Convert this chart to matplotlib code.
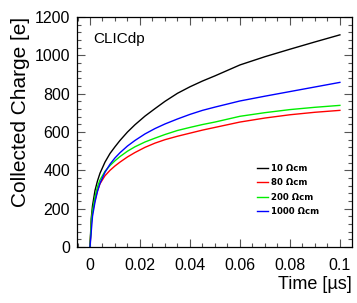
import matplotlib
matplotlib.use("Agg")
import matplotlib.pyplot as plt
from matplotlib.ticker import MultipleLocator, FixedLocator

plt.rcParams['font.family'] = ['Liberation Sans', 'DejaVu Sans']

# time in microseconds
time_us = [0, 0.0005, 0.001, 0.002, 0.003, 0.004, 0.006, 0.008, 0.010, 0.012,
           0.015, 0.018, 0.022, 0.026, 0.030, 0.035, 0.040, 0.045, 0.050,
           0.060, 0.070, 0.080, 0.090, 0.100]

# collected charge [e] for each resistivity
q_10 = [0, 150, 215, 295, 345, 385, 443, 488, 523, 556,
        600, 638, 683, 722, 760, 802, 836, 866, 893,
        950, 993, 1032, 1070, 1107]
q_80 = [0, 120, 180, 245, 295, 330, 372, 400, 423, 443,
        470, 493, 520, 542, 560, 578, 594, 610, 624,
        652, 673, 690, 703, 713]
q_200 = [0, 130, 190, 262, 315, 350, 395, 425, 450, 472,
         500, 523, 548, 568, 587, 608, 624, 639, 652,
         682, 701, 717, 729, 739]
q_1000 = [0, 80, 160, 235, 290, 332, 390, 432, 465, 492,
          527, 556, 590, 618, 642, 668, 692, 713, 730,
          762, 787, 811, 835, 859]

labels = ['10 \u03a9cm', '80 \u03a9cm', '200 \u03a9cm', '1000 \u03a9cm']
colors = ['black', 'red', '#00ee00', 'blue']

fig = plt.figure(figsize=(3.57, 3.03), dpi=100)
ax = fig.add_axes([0.2157, 0.1848, 0.770, 0.759])

for q, lab, c in zip([q_10, q_80, q_200, q_1000], labels, colors):
    ax.plot(time_us, q, color=c, lw=1.0, label=lab)

ax.set_xlim(-0.0052, 0.1048)
ax.set_ylim(0, 1200)

ax.xaxis.set_major_locator(FixedLocator([0, 0.02, 0.04, 0.06, 0.08, 0.1]))
ax.set_xticklabels(['0', '0.02', '0.04', '0.06', '0.08', '0.1'])
ax.xaxis.set_minor_locator(MultipleLocator(0.005))
ax.yaxis.set_major_locator(MultipleLocator(200))
ax.yaxis.set_minor_locator(MultipleLocator(40))

ax.tick_params(which='both', direction='in', top=True, right=True,
               labelsize=11.5, color='#555555')
ax.tick_params(which='major', length=6, width=0.8)
ax.tick_params(which='minor', length=3, width=0.8)
ax.tick_params(axis='x', pad=8)
ax.tick_params(axis='y', pad=5)
for s in ax.spines.values():
    s.set_linewidth(0.9)

ax.set_xlabel('Time [\u00b5s]', fontsize=13, loc='right', labelpad=2)
ax.set_ylabel('Collected Charge [e]', fontsize=15, loc='top', labelpad=3)

ax.text(0.06, 0.885, 'CLICdp', transform=ax.transAxes, fontsize=11)

ax.legend(loc='upper left', bbox_to_anchor=(0.655, 0.36), frameon=False,
          prop={'family': 'DejaVu Sans', 'size': 6.2, 'weight': 'bold'},
          handlelength=1.3, handletextpad=0.3, labelspacing=0.6,
          borderpad=0, borderaxespad=0)

fig.savefig('out.png', dpi=100)
